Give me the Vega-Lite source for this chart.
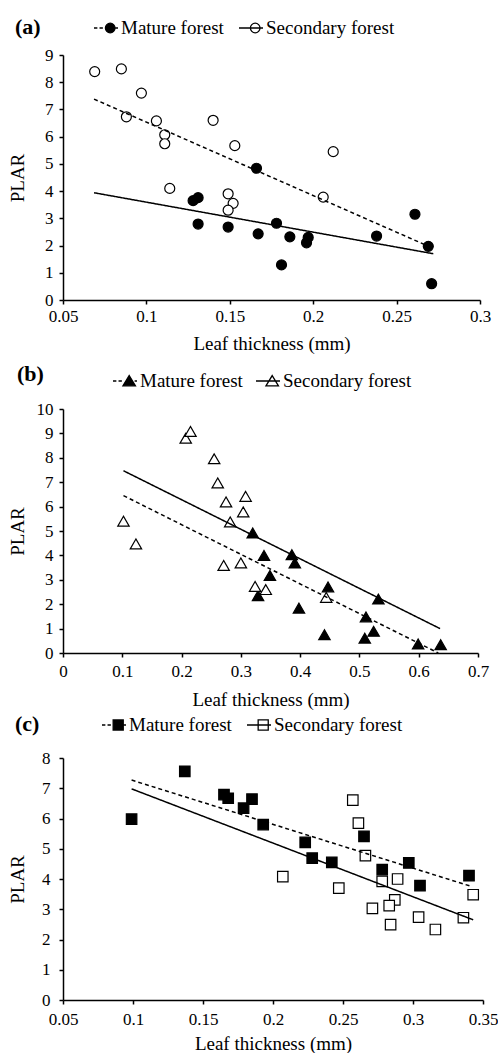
{
  "$schema": "https://vega.github.io/schema/vega-lite/v6.json",
  "padding": {"left": 8, "top": 15, "right": 0, "bottom": 0},
  "autosize": {"type": "pad"},
  "config": {
    "view": {"stroke": null},
    "font": "Liberation Serif",
    "axis": {"labelFont": "Liberation Serif", "titleFont": "Liberation Serif", "labelFontSize": 17, "titleFontSize": 19, "titleFontWeight": "normal", "labelColor": "black", "titleColor": "black", "domainColor": "black", "tickColor": "black", "domainWidth": 1.5, "tickWidth": 1.5, "tickSize": 4, "grid": false, "labelOverlap": false, "labelFlush": false},
    "legend": {"labelFont": "Liberation Serif", "labelFontSize": 19, "labelColor": "black", "titleFont": "Liberation Serif", "titleFontSize": 22, "titleFontWeight": "bold", "titleColor": "black", "symbolSize": 576, "labelOffset": 2, "columnPadding": 12, "padding": 0, "direction": "horizontal", "orient": "none", "titleOrient": "left", "titleAngle": 0, "symbolStrokeWidth": 1.3, "symbolStrokeColor": "black"}
  },
  "datasets": {
    "points": [
      {"panel": "a", "series": "Mature forest", "x": 0.128, "y": 3.65},
      {"panel": "a", "series": "Mature forest", "x": 0.131, "y": 3.76},
      {"panel": "a", "series": "Mature forest", "x": 0.131, "y": 2.79},
      {"panel": "a", "series": "Mature forest", "x": 0.149, "y": 2.68},
      {"panel": "a", "series": "Mature forest", "x": 0.166, "y": 4.84},
      {"panel": "a", "series": "Mature forest", "x": 0.167, "y": 2.43},
      {"panel": "a", "series": "Mature forest", "x": 0.178, "y": 2.82},
      {"panel": "a", "series": "Mature forest", "x": 0.181, "y": 1.29},
      {"panel": "a", "series": "Mature forest", "x": 0.186, "y": 2.32},
      {"panel": "a", "series": "Mature forest", "x": 0.197, "y": 2.3},
      {"panel": "a", "series": "Mature forest", "x": 0.196, "y": 2.1},
      {"panel": "a", "series": "Mature forest", "x": 0.238, "y": 2.35},
      {"panel": "a", "series": "Mature forest", "x": 0.261, "y": 3.15},
      {"panel": "a", "series": "Mature forest", "x": 0.269, "y": 1.97},
      {"panel": "a", "series": "Mature forest", "x": 0.271, "y": 0.6},
      {"panel": "a", "series": "Secondary forest", "x": 0.069, "y": 8.39},
      {"panel": "a", "series": "Secondary forest", "x": 0.085, "y": 8.49},
      {"panel": "a", "series": "Secondary forest", "x": 0.097, "y": 7.6},
      {"panel": "a", "series": "Secondary forest", "x": 0.088, "y": 6.73},
      {"panel": "a", "series": "Secondary forest", "x": 0.106, "y": 6.58},
      {"panel": "a", "series": "Secondary forest", "x": 0.111, "y": 6.07},
      {"panel": "a", "series": "Secondary forest", "x": 0.111, "y": 5.74},
      {"panel": "a", "series": "Secondary forest", "x": 0.14, "y": 6.6},
      {"panel": "a", "series": "Secondary forest", "x": 0.153, "y": 5.67},
      {"panel": "a", "series": "Secondary forest", "x": 0.114, "y": 4.1},
      {"panel": "a", "series": "Secondary forest", "x": 0.149, "y": 3.9},
      {"panel": "a", "series": "Secondary forest", "x": 0.152, "y": 3.55},
      {"panel": "a", "series": "Secondary forest", "x": 0.149, "y": 3.3},
      {"panel": "a", "series": "Secondary forest", "x": 0.206, "y": 3.78},
      {"panel": "a", "series": "Secondary forest", "x": 0.212, "y": 5.45},
      {"panel": "b", "series": "Mature forest", "x": 0.32, "y": 4.92},
      {"panel": "b", "series": "Mature forest", "x": 0.339, "y": 4.0},
      {"panel": "b", "series": "Mature forest", "x": 0.329, "y": 2.35},
      {"panel": "b", "series": "Mature forest", "x": 0.349, "y": 3.18},
      {"panel": "b", "series": "Mature forest", "x": 0.386, "y": 4.03},
      {"panel": "b", "series": "Mature forest", "x": 0.391, "y": 3.69},
      {"panel": "b", "series": "Mature forest", "x": 0.398, "y": 1.84},
      {"panel": "b", "series": "Mature forest", "x": 0.447, "y": 2.71},
      {"panel": "b", "series": "Mature forest", "x": 0.441, "y": 0.75},
      {"panel": "b", "series": "Mature forest", "x": 0.509, "y": 0.61},
      {"panel": "b", "series": "Mature forest", "x": 0.524, "y": 0.89},
      {"panel": "b", "series": "Mature forest", "x": 0.599, "y": 0.37},
      {"panel": "b", "series": "Mature forest", "x": 0.637, "y": 0.34},
      {"panel": "b", "series": "Mature forest", "x": 0.511, "y": 1.48},
      {"panel": "b", "series": "Mature forest", "x": 0.532, "y": 2.21},
      {"panel": "b", "series": "Secondary forest", "x": 0.102, "y": 5.4},
      {"panel": "b", "series": "Secondary forest", "x": 0.123, "y": 4.47},
      {"panel": "b", "series": "Secondary forest", "x": 0.207, "y": 8.8},
      {"panel": "b", "series": "Secondary forest", "x": 0.215, "y": 9.08},
      {"panel": "b", "series": "Secondary forest", "x": 0.255, "y": 7.96},
      {"panel": "b", "series": "Secondary forest", "x": 0.261, "y": 6.97},
      {"panel": "b", "series": "Secondary forest", "x": 0.275, "y": 6.19},
      {"panel": "b", "series": "Secondary forest", "x": 0.308, "y": 6.42},
      {"panel": "b", "series": "Secondary forest", "x": 0.304, "y": 5.78},
      {"panel": "b", "series": "Secondary forest", "x": 0.282, "y": 5.37},
      {"panel": "b", "series": "Secondary forest", "x": 0.271, "y": 3.59},
      {"panel": "b", "series": "Secondary forest", "x": 0.3, "y": 3.69},
      {"panel": "b", "series": "Secondary forest", "x": 0.324, "y": 2.73},
      {"panel": "b", "series": "Secondary forest", "x": 0.342, "y": 2.6},
      {"panel": "b", "series": "Secondary forest", "x": 0.444, "y": 2.28},
      {"panel": "c", "series": "Mature forest", "x": 0.099, "y": 5.98},
      {"panel": "c", "series": "Mature forest", "x": 0.137, "y": 7.56},
      {"panel": "c", "series": "Mature forest", "x": 0.165, "y": 6.79},
      {"panel": "c", "series": "Mature forest", "x": 0.168, "y": 6.67},
      {"panel": "c", "series": "Mature forest", "x": 0.185, "y": 6.64},
      {"panel": "c", "series": "Mature forest", "x": 0.179, "y": 6.34},
      {"panel": "c", "series": "Mature forest", "x": 0.193, "y": 5.8},
      {"panel": "c", "series": "Mature forest", "x": 0.223, "y": 5.21},
      {"panel": "c", "series": "Mature forest", "x": 0.228, "y": 4.69},
      {"panel": "c", "series": "Mature forest", "x": 0.242, "y": 4.55},
      {"panel": "c", "series": "Mature forest", "x": 0.265, "y": 5.41},
      {"panel": "c", "series": "Mature forest", "x": 0.278, "y": 4.31},
      {"panel": "c", "series": "Mature forest", "x": 0.297, "y": 4.53},
      {"panel": "c", "series": "Mature forest", "x": 0.305, "y": 3.78},
      {"panel": "c", "series": "Mature forest", "x": 0.34, "y": 4.11},
      {"panel": "c", "series": "Secondary forest", "x": 0.257, "y": 6.61},
      {"panel": "c", "series": "Secondary forest", "x": 0.261, "y": 5.85},
      {"panel": "c", "series": "Secondary forest", "x": 0.266, "y": 4.77},
      {"panel": "c", "series": "Secondary forest", "x": 0.207, "y": 4.08},
      {"panel": "c", "series": "Secondary forest", "x": 0.247, "y": 3.7},
      {"panel": "c", "series": "Secondary forest", "x": 0.278, "y": 3.92},
      {"panel": "c", "series": "Secondary forest", "x": 0.289, "y": 4.0},
      {"panel": "c", "series": "Secondary forest", "x": 0.287, "y": 3.31},
      {"panel": "c", "series": "Secondary forest", "x": 0.283, "y": 3.12},
      {"panel": "c", "series": "Secondary forest", "x": 0.271, "y": 3.03},
      {"panel": "c", "series": "Secondary forest", "x": 0.284, "y": 2.49},
      {"panel": "c", "series": "Secondary forest", "x": 0.304, "y": 2.74},
      {"panel": "c", "series": "Secondary forest", "x": 0.316, "y": 2.33},
      {"panel": "c", "series": "Secondary forest", "x": 0.336, "y": 2.72},
      {"panel": "c", "series": "Secondary forest", "x": 0.343, "y": 3.48}
    ],
    "lines": [
      {"panel": "a", "style": "dashed", "x": 0.0686, "y": 7.38},
      {"panel": "a", "style": "dashed", "x": 0.27, "y": 1.95},
      {"panel": "a", "style": "solid", "x": 0.0686, "y": 3.94},
      {"panel": "a", "style": "solid", "x": 0.272, "y": 1.7},
      {"panel": "b", "style": "dashed", "x": 0.102, "y": 6.45},
      {"panel": "b", "style": "dashed", "x": 0.633, "y": 0.0},
      {"panel": "b", "style": "solid", "x": 0.102, "y": 7.47},
      {"panel": "b", "style": "solid", "x": 0.636, "y": 1.0},
      {"panel": "c", "style": "dashed", "x": 0.099, "y": 7.27},
      {"panel": "c", "style": "dashed", "x": 0.342, "y": 3.75},
      {"panel": "c", "style": "solid", "x": 0.099, "y": 6.98},
      {"panel": "c", "style": "solid", "x": 0.343, "y": 2.65}
    ]
  },
  "columns": 1,
  "align": "none",
  "spacing": 3,
  "resolve": {"scale": {"fill": "independent", "shape": "independent", "strokeDash": "independent"}, "legend": {"fill": "independent", "shape": "independent"}},
  "concat": [
    {
      "width": 417,
      "height": 245,
      "encoding": {
        "x": {"field": "x", "type": "quantitative", "scale": {"domain": [0.05, 0.3], "nice": false, "zero": false}, "axis": {"title": "Leaf thickness (mm)", "values": [0.05, 0.1, 0.15, 0.2, 0.25, 0.3], "format": ".2~f", "labelPadding": 4, "titlePadding": 10}},
        "y": {"field": "y", "type": "quantitative", "scale": {"domain": [0, 9], "nice": false}, "axis": {"title": "PLAR", "values": [0, 1, 2, 3, 4, 5, 6, 7, 8, 9], "tickCount": 10, "labelPadding": 6, "titlePadding": 17}}
      },
      "layer": [
        {
          "data": {"name": "points"},
          "transform": [{"filter": "datum.panel === 'a'"}],
          "mark": {"type": "point", "shape": "circle", "filled": true, "stroke": "black", "strokeWidth": 1.2, "size": 100, "opacity": 1},
          "encoding": {
            "fill": {"field": "series", "type": "nominal", "scale": {"domain": ["Mature forest", "Secondary forest"], "range": ["black", "white"]},
              "legend": {"title": "(a)", "legendX": -48, "legendY": -40, "titlePadding": 52}}
          }
        },
        {
          "data": {"name": "lines"},
          "transform": [{"filter": "datum.panel === 'a'"}],
          "mark": {"type": "line", "color": "black", "strokeWidth": 1.5},
          "encoding": {
            "strokeDash": {"field": "style", "type": "nominal", "scale": {"domain": ["dashed", "solid"], "range": [[4, 3], [1, 0]]}, "legend": null}
          }
        },
        {
          "data": {"name": "points"},
          "transform": [{"filter": "false"}],
          "mark": {"type": "point", "filled": true, "stroke": "black", "strokeWidth": 1.3, "opacity": 1},
          "encoding": {
            "fill": {"field": "series", "type": "nominal", "scale": {"domain": ["Mature forest", "Secondary forest"], "range": ["black", "white"]},
              "legend": {"title": "(a)", "legendX": -48, "legendY": -40, "titlePadding": 52}},
            "shape": {"field": "series", "type": "nominal", "scale": {"domain": ["Mature forest", "Secondary forest"], "range": ["M-1,0H-0.72M-0.54,0H-0.26M0.75,0H1M0.75,0A0.4,0.4 0 1,1 -0.05,0A0.4,0.4 0 1,1 0.75,0Z", "M-1,0H1M0.75,0A0.4,0.4 0 1,1 -0.05,0A0.4,0.4 0 1,1 0.75,0Z"]},
              "legend": {"title": "(a)", "legendX": -48, "legendY": -40, "titlePadding": 52}}
          }
        }
      ]
    },
    {
      "width": 415,
      "height": 244,
      "encoding": {
        "x": {"field": "x", "type": "quantitative", "scale": {"domain": [0, 0.7], "nice": false, "zero": false}, "axis": {"title": "Leaf thickness (mm)", "values": [0, 0.1, 0.2, 0.3, 0.4, 0.5, 0.6, 0.7], "format": ".1~f", "labelPadding": 6, "titlePadding": 11}},
        "y": {"field": "y", "type": "quantitative", "scale": {"domain": [0, 10], "nice": false}, "axis": {"title": "PLAR", "values": [0, 1, 2, 3, 4, 5, 6, 7, 8, 9, 10], "tickCount": 11, "labelPadding": 6, "titlePadding": 9}}
      },
      "layer": [
        {
          "data": {"name": "points"},
          "transform": [{"filter": "datum.panel === 'b'"}],
          "mark": {"type": "point", "shape": "triangle-up", "filled": true, "stroke": "black", "strokeWidth": 1.2, "size": 130, "opacity": 1},
          "encoding": {
            "fill": {"field": "series", "type": "nominal", "scale": {"domain": ["Mature forest", "Secondary forest"], "range": ["black", "white"]},
              "legend": {"title": "(b)", "legendX": -46, "legendY": -53, "titlePadding": 56, "symbolSize": 2304, "labelOffset": -10, "columnPadding": 0}}
          }
        },
        {
          "data": {"name": "lines"},
          "transform": [{"filter": "datum.panel === 'b'"}],
          "mark": {"type": "line", "color": "black", "strokeWidth": 1.5},
          "encoding": {
            "strokeDash": {"field": "style", "type": "nominal", "scale": {"domain": ["dashed", "solid"], "range": [[4, 3], [1, 0]]}, "legend": null}
          }
        },
        {
          "data": {"name": "points"},
          "transform": [{"filter": "false"}],
          "mark": {"type": "point", "filled": true, "stroke": "black", "strokeWidth": 1.3, "opacity": 1},
          "encoding": {
            "fill": {"field": "series", "type": "nominal", "scale": {"domain": ["Mature forest", "Secondary forest"], "range": ["black", "white"]},
              "legend": {"title": "(b)", "legendX": -46, "legendY": -53, "titlePadding": 56, "symbolSize": 2304, "labelOffset": -10, "columnPadding": 0}},
            "shape": {"field": "series", "type": "nominal", "scale": {"domain": ["Mature forest", "Secondary forest"], "range": ["M-0.5,0H-0.36M-0.27,0H-0.13M0.4,0H0.5M0.175,-0.225L0.435,0.2L-0.085,0.2Z", "M-0.5,0H0.5M0.175,-0.225L0.435,0.2L-0.085,0.2Z"]},
              "legend": {"title": "(b)", "legendX": -46, "legendY": -53, "titlePadding": 56, "symbolSize": 2304, "labelOffset": -10, "columnPadding": 0}}
          }
        }
      ]
    },
    {
      "width": 420,
      "height": 242,
      "encoding": {
        "x": {"field": "x", "type": "quantitative", "scale": {"domain": [0.05, 0.35], "nice": false, "zero": false}, "axis": {"title": "Leaf thickness (mm)", "values": [0.05, 0.1, 0.15, 0.2, 0.25, 0.3, 0.35], "format": ".2~f", "labelPadding": 7, "titlePadding": 7}},
        "y": {"field": "y", "type": "quantitative", "scale": {"domain": [0, 8], "nice": false}, "axis": {"title": "PLAR", "values": [0, 1, 2, 3, 4, 5, 6, 7, 8], "tickCount": 9, "labelPadding": 9, "titlePadding": 14}}
      },
      "layer": [
        {
          "data": {"name": "points"},
          "transform": [{"filter": "datum.panel === 'c'"}],
          "mark": {"type": "point", "shape": "square", "filled": true, "stroke": "black", "strokeWidth": 1.2, "size": 110, "opacity": 1},
          "encoding": {
            "fill": {"field": "series", "type": "nominal", "scale": {"domain": ["Mature forest", "Secondary forest"], "range": ["black", "white"]},
              "legend": {"title": "(c)", "legendX": -48, "legendY": -46, "titlePadding": 61}}
          }
        },
        {
          "data": {"name": "lines"},
          "transform": [{"filter": "datum.panel === 'c'"}],
          "mark": {"type": "line", "color": "black", "strokeWidth": 1.5},
          "encoding": {
            "strokeDash": {"field": "style", "type": "nominal", "scale": {"domain": ["dashed", "solid"], "range": [[4, 3], [1, 0]]}, "legend": null}
          }
        },
        {
          "data": {"name": "points"},
          "transform": [{"filter": "false"}],
          "mark": {"type": "point", "filled": true, "stroke": "black", "strokeWidth": 1.3, "opacity": 1},
          "encoding": {
            "fill": {"field": "series", "type": "nominal", "scale": {"domain": ["Mature forest", "Secondary forest"], "range": ["black", "white"]},
              "legend": {"title": "(c)", "legendX": -48, "legendY": -46, "titlePadding": 61}},
            "shape": {"field": "series", "type": "nominal", "scale": {"domain": ["Mature forest", "Secondary forest"], "range": ["M-1,0H-0.72M-0.54,0H-0.26M0.77,0H1M-0.07,-0.42H0.77V0.42H-0.07Z", "M-1,0H1M-0.07,-0.42H0.77V0.42H-0.07Z"]},
              "legend": {"title": "(c)", "legendX": -48, "legendY": -46, "titlePadding": 61}}
          }
        }
      ]
    }
  ]
}
